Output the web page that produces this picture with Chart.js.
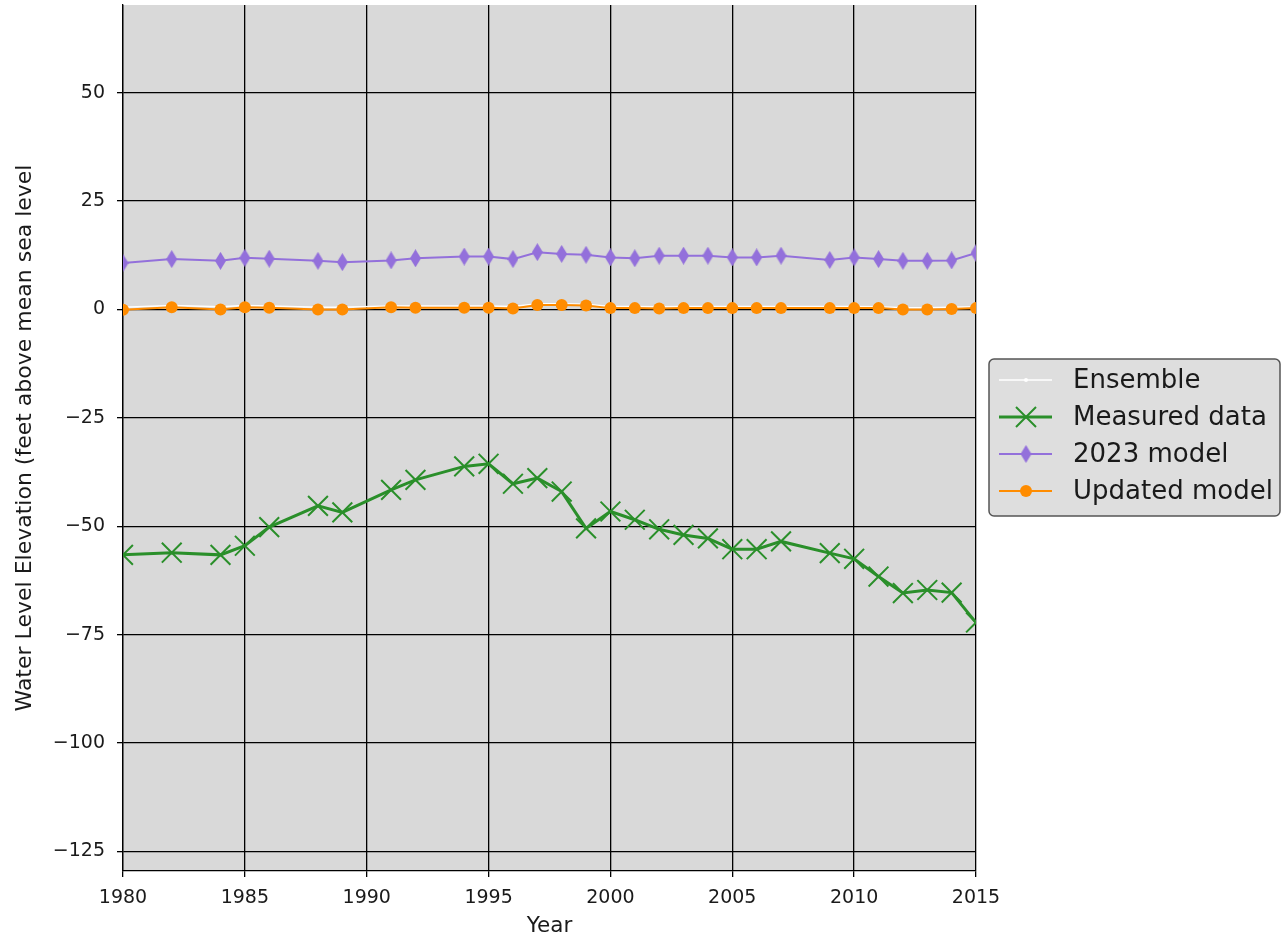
<!DOCTYPE html>
<html>
<head>
<meta charset="utf-8">
<script src="https://cdn.jsdelivr.net/npm/chart.js@4/dist/chart.umd.min.js"></script>
<style>
html,body{margin:0;padding:0;background:#fff;}
#wrap{width:1282px;height:939px;position:relative;}
</style>
</head>
<body>
<div id="wrap"><canvas id="c" width="1282" height="939"></canvas></div>
<script>
const years = [1980,1982,1984,1985,1986,1988,1989,1991,1992,1994,1995,1996,1997,1998,1999,2000,2001,2002,2003,2004,2005,2006,2007,2009,2010,2011,2012,2013,2014,2015];
const ensemble = [0.5,0.9,0.6,0.9,0.8,0.5,0.5,0.8,0.8,0.8,0.8,0.7,1.3,1.3,1.2,0.7,0.7,0.6,0.7,0.7,0.7,0.7,0.7,0.7,0.7,0.6,0.4,0.4,0.5,0.6];
const measured = [-56.6,-56.1,-56.6,-54.5,-50.2,-45.3,-46.8,-41.6,-39.3,-36.2,-35.6,-40.2,-38.9,-42.0,-50.5,-46.6,-48.5,-50.7,-52.0,-52.8,-55.3,-55.3,-53.5,-56.2,-57.5,-61.6,-65.4,-64.7,-65.3,-72.2];
const model2023 = [10.7,11.6,11.2,11.9,11.7,11.2,10.9,11.3,11.8,12.2,12.2,11.6,13.2,12.8,12.6,12.0,11.8,12.4,12.4,12.4,12.0,12.0,12.4,11.4,12.0,11.6,11.2,11.2,11.3,13.0];
const updatedModel = [-0.1,0.5,0.0,0.5,0.4,0.0,0.0,0.5,0.4,0.4,0.4,0.2,1.0,1.0,0.9,0.3,0.3,0.2,0.3,0.3,0.3,0.3,0.3,0.3,0.3,0.3,0.0,0.0,0.1,0.3];
const seriesLabels = ['Ensemble','Measured data','2023 model','Updated model'];
const xTicks = [1980,1985,1990,1995,2000,2005,2010,2015];
const yTicks = [50,25,0,-25,-50,-75,-100,-125];
const xTitle = 'Year';
const yTitle = 'Water Level Elevation (feet above mean sea level';

const C_GREEN = '#2a8f2a', C_PURPLE = '#9370DB', C_ORANGE = '#FF8C00';
const FONT = '"DejaVu Sans", sans-serif';

function thinDiamond(w, h, color) {
  const cv = document.createElement('canvas');
  cv.width = w; cv.height = h;
  const g = cv.getContext('2d');
  g.fillStyle = color;
  g.beginPath();
  g.moveTo(w/2, 0); g.lineTo(w, h/2); g.lineTo(w/2, h); g.lineTo(0, h/2); g.closePath();
  g.fill();
  return cv;
}
const diamondImg = thinDiamond(11, 18, C_PURPLE);

const pts = arr => arr.map((v,i)=>({x: years[i], y: v}));

const bgPlugin = {
  id: 'bg',
  beforeDraw(chart) {
    const {ctx, chartArea: a} = chart;
    ctx.save();
    ctx.fillStyle = '#d9d9d9';
    ctx.fillRect(a.left, a.top, a.right - a.left, a.bottom - a.top);
    ctx.restore();
  }
};

const legendPlugin = {
  id: 'mplLegend',
  afterDraw(chart) {
    const ctx = chart.ctx;
    const x0 = 989, y0 = 359, w = 291, h = 157, r = 5;
    ctx.save();
    ctx.beginPath();
    ctx.moveTo(x0 + r, y0);
    ctx.lineTo(x0 + w - r, y0); ctx.arcTo(x0 + w, y0, x0 + w, y0 + r, r);
    ctx.lineTo(x0 + w, y0 + h - r); ctx.arcTo(x0 + w, y0 + h, x0 + w - r, y0 + h, r);
    ctx.lineTo(x0 + r, y0 + h); ctx.arcTo(x0, y0 + h, x0, y0 + h - r, r);
    ctx.lineTo(x0, y0 + r); ctx.arcTo(x0, y0, x0 + r, y0, r);
    ctx.closePath();
    ctx.fillStyle = '#dedede';
    ctx.fill();
    ctx.strokeStyle = '#555';
    ctx.lineWidth = 1.5;
    ctx.stroke();
    const rows = [380, 417, 454, 491];
    const lx1 = 999, lx2 = 1052, mx = 1026;
    chart.data.datasets.forEach((ds, i) => {
      const y = rows[i];
      ctx.strokeStyle = ds.borderColor;
      ctx.lineWidth = ds.borderWidth;
      ctx.beginPath(); ctx.moveTo(lx1, y); ctx.lineTo(lx2, y); ctx.stroke();
      if (i === 0) {
        ctx.fillStyle = '#fff';
        ctx.beginPath(); ctx.arc(mx, y, 2, 0, Math.PI*2); ctx.fill();
      } else if (i === 1) {
        ctx.strokeStyle = C_GREEN; ctx.lineWidth = 2;
        ctx.beginPath();
        ctx.moveTo(mx-10, y-10); ctx.lineTo(mx+10, y+10);
        ctx.moveTo(mx-10, y+10); ctx.lineTo(mx+10, y-10);
        ctx.stroke();
      } else if (i === 2) {
        ctx.drawImage(diamondImg, mx - 5.5, y - 9);
      } else {
        ctx.fillStyle = C_ORANGE;
        ctx.beginPath(); ctx.arc(mx, y, 6, 0, Math.PI*2); ctx.fill();
      }
      ctx.fillStyle = '#1a1a1a';
      ctx.font = '26px ' + FONT;
      ctx.textBaseline = 'middle';
      ctx.textAlign = 'left';
      ctx.fillText(ds.label, 1073, y + 1);
    });
    ctx.restore();
  }
};

const minusFmt = v => (v < 0 ? '\u2212' + Math.abs(v) : String(v));

new Chart(document.getElementById('c'), {
  type: 'line',
  data: {
    datasets: [
      { label: seriesLabels[0], data: pts(ensemble), borderColor: '#ffffff', backgroundColor: '#ffffff',
        borderWidth: 1.5, pointRadius: 1.5, pointStyle: 'circle', pointBorderWidth: 0, order: 4 },
      { label: seriesLabels[1], data: pts(measured), borderColor: C_GREEN, backgroundColor: C_GREEN,
        borderWidth: 3, pointStyle: 'crossRot', pointRadius: 14, pointBorderWidth: 2, pointBorderColor: C_GREEN, order: 3 },
      { label: seriesLabels[2], data: pts(model2023), borderColor: C_PURPLE, backgroundColor: C_PURPLE,
        borderWidth: 2, pointStyle: diamondImg, pointRadius: 9, order: 2 },
      { label: seriesLabels[3], data: pts(updatedModel), borderColor: C_ORANGE, backgroundColor: C_ORANGE,
        borderWidth: 2, pointStyle: 'circle', pointRadius: 6, pointBorderWidth: 0, order: 1 }
    ]
  },
  options: {
    responsive: false,
    animation: false,
    devicePixelRatio: 1,
    layout: { autoPadding: false, padding: { left: 0, top: 5, right: 306, bottom: 0 } },
    plugins: { legend: { display: false }, tooltip: { enabled: false } },
    elements: { line: { tension: 0 } },
    scales: {
      x: {
        type: 'linear', min: 1980, max: 2015,
        afterBuildTicks: s => { s.ticks = xTicks.map(v => ({value: v})); },
        afterFit: s => { s.height = 68; s.paddingLeft = 0; s.paddingRight = 0; },
        grid: { color: '#000', lineWidth: 1.3, tickLength: 6, tickColor: '#000' },
        border: { color: '#000', width: 1.3 },
        ticks: { color: '#1a1a1a', font: { family: FONT, size: 19 }, padding: 10, maxRotation: 0,
                 autoSkip: false, callback: v => String(v) },
        title: { display: true, text: xTitle, color: '#1a1a1a', font: { family: FONT, size: 21.5 },
                 padding: { top: 0, bottom: 0 } }
      },
      y: {
        type: 'linear', min: -129.5, max: 70.2,
        afterBuildTicks: s => { s.ticks = yTicks.map(v => ({value: v})); },
        afterFit: s => { s.width = 123; s.paddingTop = 0; s.paddingBottom = 0; },
        grid: { color: '#000', lineWidth: 1.3, tickLength: 6, tickColor: '#000' },
        border: { color: '#000', width: 1.3 },
        ticks: { color: '#1a1a1a', font: { family: FONT, size: 19 }, padding: 12,
                 autoSkip: false, callback: v => minusFmt(v) },
        title: { display: true, text: yTitle, color: '#1a1a1a', font: { family: FONT, size: 22 },
                 padding: { top: 12, bottom: 0 } }
      }
    }
  },
  plugins: [bgPlugin, legendPlugin]
});
</script>
</body>
</html>
